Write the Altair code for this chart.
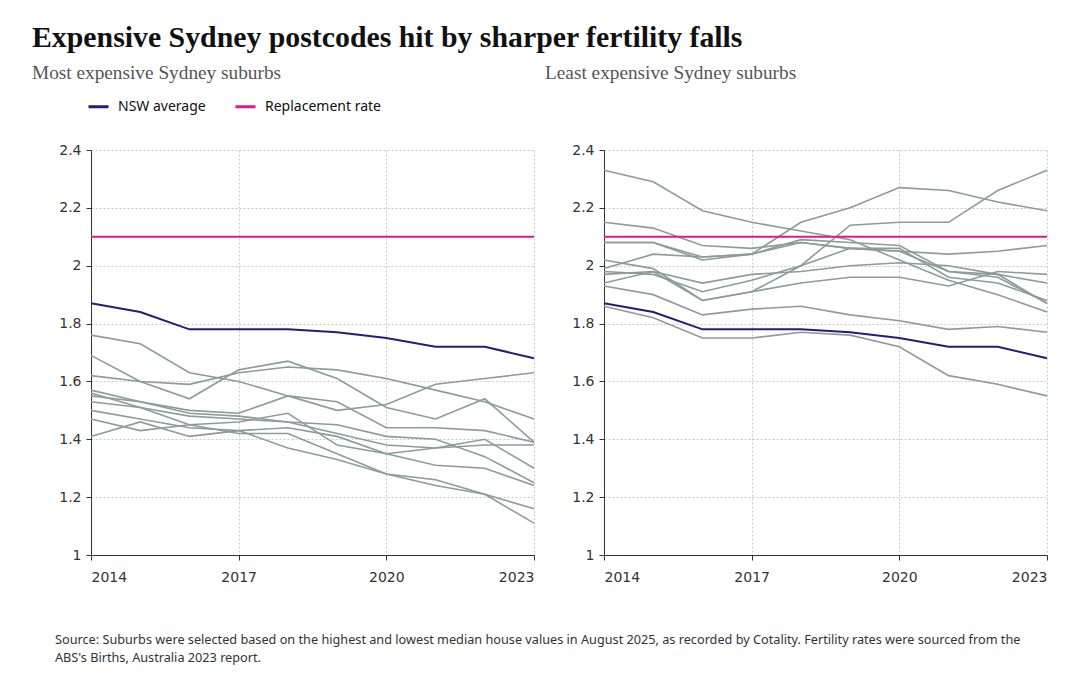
import altair as alt
import pandas as pd

years = [2014, 2015, 2016, 2017, 2018, 2019, 2020, 2021, 2022, 2023]

nsw_average = [1.87, 1.84, 1.78, 1.78, 1.78, 1.77, 1.75, 1.72, 1.72, 1.68]
replacement_rate = 2.1

# Most expensive suburbs: total fertility rate per year
expensive = {
    "E1": [1.76, 1.73, 1.63, 1.60, 1.55, 1.53, 1.44, 1.44, 1.43, 1.39],
    "E2": [1.69, 1.60, 1.54, 1.64, 1.67, 1.61, 1.51, 1.47, 1.54, 1.39],
    "E3": [1.62, 1.60, 1.59, 1.63, 1.65, 1.64, 1.61, 1.57, 1.53, 1.47],
    "E4": [1.55, 1.53, 1.50, 1.49, 1.55, 1.50, 1.52, 1.59, 1.61, 1.63],
    "E5": [1.57, 1.53, 1.49, 1.48, 1.46, 1.45, 1.41, 1.40, 1.34, 1.25],
    "E6": [1.56, 1.51, 1.45, 1.42, 1.42, 1.35, 1.28, 1.26, 1.21, 1.11],
    "E7": [1.53, 1.51, 1.48, 1.47, 1.46, 1.42, 1.38, 1.37, 1.38, 1.38],
    "E8": [1.50, 1.47, 1.44, 1.43, 1.37, 1.33, 1.28, 1.24, 1.21, 1.16],
    "E9": [1.47, 1.43, 1.45, 1.46, 1.49, 1.38, 1.35, 1.37, 1.40, 1.30],
    "E10": [1.41, 1.46, 1.41, 1.43, 1.44, 1.41, 1.35, 1.31, 1.30, 1.24],
}

# Least expensive suburbs: total fertility rate per year
affordable = {
    "L1": [2.33, 2.29, 2.19, 2.15, 2.12, 2.09, 2.02, 1.95, 1.90, 1.84],
    "L2": [1.99, 2.04, 2.03, 2.04, 2.15, 2.20, 2.27, 2.26, 2.22, 2.19],
    "L3": [2.02, 1.99, 1.88, 1.91, 2.00, 2.14, 2.15, 2.15, 2.26, 2.33],
    "L4": [2.15, 2.13, 2.07, 2.06, 2.08, 2.06, 2.05, 2.04, 2.05, 2.07],
    "L5": [2.08, 2.08, 2.02, 2.04, 2.09, 2.08, 2.07, 1.98, 1.96, 1.87],
    "L6": [2.08, 2.08, 2.03, 2.04, 2.08, 2.06, 2.06, 1.96, 1.94, 1.88],
    "L7": [1.97, 1.98, 1.94, 1.97, 1.98, 2.00, 2.01, 2.00, 1.97, 1.94],
    "L8": [1.98, 1.97, 1.91, 1.95, 2.00, 2.06, 2.05, 1.98, 1.97, 1.87],
    "L9": [1.94, 1.98, 1.88, 1.91, 1.94, 1.96, 1.96, 1.93, 1.98, 1.97],
    "L10": [1.93, 1.90, 1.83, 1.85, 1.86, 1.83, 1.81, 1.78, 1.79, 1.77],
    "L11": [1.86, 1.82, 1.75, 1.75, 1.77, 1.76, 1.72, 1.62, 1.59, 1.55],
}

GREY = "#8b9c9b"
NAVY = "#2a1a78"
PINK = "#e2178a"


def suburb_frame(series):
    rows = []
    for name, vals in series.items():
        for y, v in zip(years, vals):
            rows.append({"series": name, "year": y, "rate": v})
    return pd.DataFrame(rows)


def reference_frame():
    rows = [{"series": "NSW average", "year": y, "rate": v} for y, v in zip(years, nsw_average)]
    rows += [{"series": "Replacement rate", "year": y, "rate": replacement_rate}
             for y in (years[0], years[-1])]
    return pd.DataFrame(rows)


x_enc = alt.X(
    "year:Q",
    scale=alt.Scale(domain=[2014, 2023], nice=False, zero=False),
    axis=alt.Axis(values=[2014, 2017, 2020, 2023], format="d", title=None,
                  labelFlush=True, grid=True, labelPadding=10),
)
y_enc = alt.Y(
    "rate:Q",
    scale=alt.Scale(domain=[1, 2.4], nice=False, zero=False),
    axis=alt.Axis(values=[1, 1.2, 1.4, 1.6, 1.8, 2.0, 2.2, 2.4], format="~g",
                  title=None, grid=True),
)


def panel(series, heading):
    grey = alt.Chart(suburb_frame(series)).mark_line(
        color=GREY, strokeWidth=1.6
    ).encode(x=x_enc, y=y_enc, detail="series:N")
    refs = alt.Chart(reference_frame()).mark_line(strokeWidth=2).encode(
        x=x_enc,
        y=y_enc,
        color=alt.Color(
            "series:N",
            scale=alt.Scale(domain=["NSW average", "Replacement rate"], range=[NAVY, PINK]),
            legend=alt.Legend(
                title=None, orient="none", direction="horizontal",
                legendX=-4, legendY=-55, symbolType="stroke",
                symbolStrokeWidth=3, symbolSize=400, labelFontSize=14,
                labelFont="Noto Sans", labelColor="#111", columnPadding=23,
                labelOffset=8,
            ),
        ),
        detail="series:N",
    )
    return alt.layer(grey, refs).properties(
        width=443, height=405,
        title=alt.TitleParams(heading, anchor="start", frame="group", dx=-59,
                              offset=60, font="Liberation Serif", fontSize=19.3,
                              fontWeight="normal", color="#555"),
    )


left = panel(expensive, "Most expensive Sydney suburbs")
right = panel(affordable, "Least expensive Sydney suburbs")

body = alt.hconcat(left, right, spacing=7).properties(
    title=alt.TitleParams(
        ["Source: Suburbs were selected based on the highest and lowest median house values in August 2025, as recorded by Cotality. Fertility rates were sourced from the",
         "ABS's Births, Australia 2023 report."],
        orient="bottom", anchor="start", frame="bounds", dx=23, offset=50,
        font="Noto Sans", fontSize=12.7, fontWeight="normal", color="#333",
        lineHeight=18,
    )
)

chart = alt.vconcat(body).properties(
    title=alt.TitleParams(
        "Expensive Sydney postcodes hit by sharper fertility falls",
        anchor="start", frame="bounds", font="Liberation Serif", fontSize=29.8,
        fontWeight="bold", color="#111", offset=11,
    ),
    padding={"left": 32, "top": 22, "right": 10, "bottom": 10},
).configure_view(stroke=None).configure_axis(
    domainColor="#333", tickColor="#333", labelColor="#333",
    labelFont="DejaVu Sans", labelFontSize=14, tickSize=5, labelPadding=5,
    gridColor="#c9c9c9", gridDash=[2, 2], gridWidth=1,
)

chart.save("out.html", embed_options={"renderer": "svg", "actions": False})
